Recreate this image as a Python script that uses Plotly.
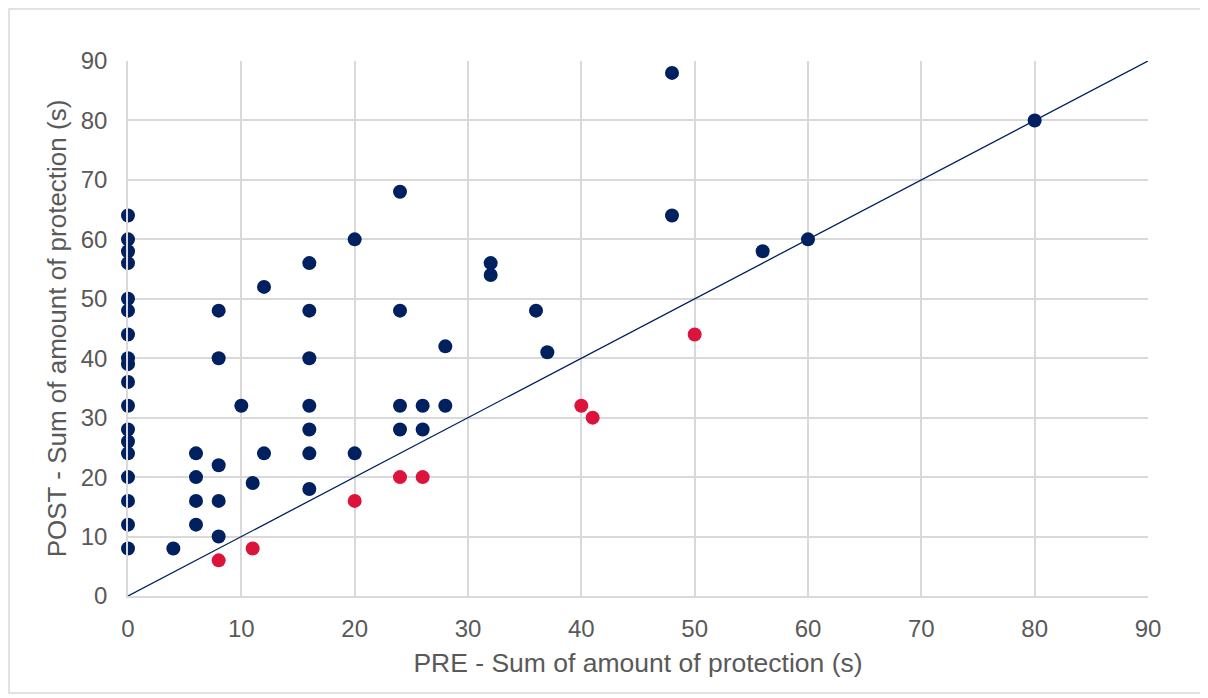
import plotly.graph_objects as go

# Points where POST >= PRE (blue)
blue_pre = [0, 0, 0, 0, 0, 0, 0, 0, 0, 0, 0, 0, 0, 0, 0, 0, 0, 0,
            4, 6, 6, 6, 6, 8, 8, 8, 8, 8, 10, 11, 12, 12,
            16, 16, 16, 16, 16, 16, 16, 20, 20,
            24, 24, 24, 24, 26, 26, 28, 28, 32, 32, 36, 37,
            48, 48, 56, 60, 80]
blue_post = [64, 60, 58, 56, 50, 48, 44, 40, 39, 36, 32, 28, 26, 24, 20, 16, 12, 8,
             8, 24, 20, 16, 12, 48, 40, 22, 16, 10, 32, 19, 52, 24,
             56, 48, 40, 32, 28, 24, 18, 60, 24,
             68, 48, 32, 28, 32, 28, 42, 32, 56, 54, 48, 41,
             88, 64, 58, 60, 80]

# Points where POST < PRE (red)
red_pre = [8, 11, 20, 24, 26, 40, 41, 50]
red_post = [6, 8, 16, 20, 20, 32, 30, 44]

# Equality line
line_x = [0, 90]
line_y = [0, 90]

x_ticks = [0, 10, 20, 30, 40, 50, 60, 70, 80, 90]
y_ticks = [0, 10, 20, 30, 40, 50, 60, 70, 80, 90]

NAVY = "#002060"
RED = "#DC143C"
GRID = "#d9d9d9"
TXT = "#595959"
FONT = "Liberation Sans, Arial, sans-serif"

fig = go.Figure()
fig.add_trace(go.Scatter(x=line_x, y=line_y, mode="lines",
                         line=dict(color=NAVY, width=1.3), hoverinfo="skip",
                         showlegend=False))
fig.add_trace(go.Scatter(x=blue_pre, y=blue_post, mode="markers", cliponaxis=False,
                         marker=dict(color=NAVY, size=14, line=dict(width=0)),
                         showlegend=False))
fig.add_trace(go.Scatter(x=red_pre, y=red_post, mode="markers", cliponaxis=False,
                         marker=dict(color=RED, size=14, line=dict(width=0)),
                         showlegend=False))

W, H = 1200, 690
L, R, T, B = 120, 60, 53, 102
pw, ph = W - L - R, H - T - B

fig.update_layout(
    width=W, height=H,
    margin=dict(l=L, r=R, t=T, b=B),
    paper_bgcolor="white", plot_bgcolor="white",
    font=dict(family=FONT, color=TXT, size=24),
    xaxis=dict(range=[0, 90], tickvals=x_ticks, showgrid=True, gridcolor=GRID,
               gridwidth=1.5, zeroline=False, showline=True, linecolor=GRID,
               linewidth=1.5, ticks="", ticklabelstandoff=10,
               tickfont=dict(size=24, color=TXT),
               title=dict(text="PRE - Sum of amount of protection (s)",
                          font=dict(size=26.5, color=TXT), standoff=13)),
    yaxis=dict(range=[0, 90], tickvals=y_ticks, showgrid=True, gridcolor=GRID,
               gridwidth=1.5, zeroline=False, showline=True, linecolor=GRID,
               linewidth=1.5, ticks="", ticklabelstandoff=14,
               tickfont=dict(size=24, color=TXT),
               title=dict(text="POST - Sum of amount of protection (s)",
                          font=dict(size=26, color=TXT), standoff=7)),
    shapes=[dict(type="rect", xref="paper", yref="paper",
                 x0=(1 - L) / pw, x1=(1193 - L) / pw,
                 y0=(H - B - 685) / ph, y1=(H - B - 1) / ph,
                 line=dict(color=GRID, width=1.5), fillcolor="rgba(0,0,0,0)",
                 layer="below")],
)

fig.write_html("out.html")
